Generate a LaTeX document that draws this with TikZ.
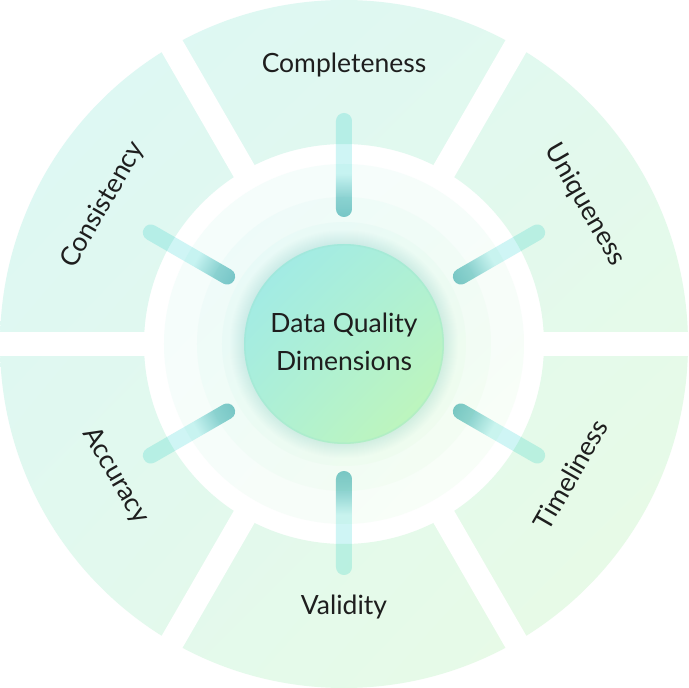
\documentclass[tikz,border=0pt]{standalone}
\usepackage{fontspec}
\setmainfont{Lato}
\usetikzlibrary{shadings}
\definecolor{segUL}{HTML}{DCF7F5}
\definecolor{segUR}{HTML}{E2F9EE}
\definecolor{segLL}{HTML}{E2F9EE}
\definecolor{segLR}{HTML}{E9FBE4}
\definecolor{spokeA}{HTML}{7FC9CC}
\definecolor{spokeB}{HTML}{95D6D7}
\definecolor{spokeC}{HTML}{CFF5F5}
\definecolor{coreUL}{HTML}{9DE9EA}
\definecolor{coreM}{HTML}{AEF0D6}
\definecolor{coreLR}{HTML}{C3F7B3}
\definecolor{glowc}{HTML}{9FE3CF}
\definecolor{labeltext}{HTML}{1E1E1E}
\pgfdeclarehorizontalshading{spokeshade}{100bp}{color(0bp)=(spokeA); color(25bp)=(spokeA); color(35bp)=(spokeB); color(46bp)=(spokeC); color(100bp)=(spokeC)}
\tikzset{
  dimlabel/.style={font=\fontsize{26.5}{30}\selectfont, text=labeltext, anchor=base, inner sep=0pt},
  corelabel/.style={font=\fontsize{26.5}{38}\selectfont, text=labeltext, align=center, inner sep=0pt},
  halo/.style={upper left=segUL!#1!white, upper right=segUR!#1!white, lower left=segLL!#1!white, lower right=segLR!#1!white},
  gapline/.style={white, line width=24pt},
}
\begin{document}
\begin{tikzpicture}[x=1pt,y=1pt]
\useasboundingbox (-344pt,-344pt) rectangle (345pt,344pt);
\fill[white] (-344pt,-344pt) rectangle (345pt,344pt);
\begin{scope}
\clip (-344pt,-344pt) rectangle (345pt,344pt);
% ring of segments
\shade[even odd rule, upper left=segUL, upper right=segUR, lower left=segLL, lower right=segLR]
  (0,0) circle (344pt) (0,0) circle (200pt);
\foreach \a in {0,60,...,300}{
  \draw[gapline] (\a:192pt) -- (\a:352pt);
}
\end{scope}
% halo rings
\shade[halo=30] (0,0) circle (180pt);
\shade[halo=50] (0,0) circle (147pt);
\shade[halo=68] (0,0) circle (122pt);
% glow
\foreach \i in {1,...,14}{
  \fill[glowc, fill opacity=0.025] (0,0) circle ({(100+\i)*1pt});
}
% core
\shade[upper left=coreUL, upper right=coreM, lower left=coreM, lower right=coreLR] (0,0) circle (100pt);
\draw[glowc, opacity=0.35, line width=1.5pt] (0,0) circle (99.2pt);
% spokes
\foreach \a in {90,30,-30,-90,210,150}{
  \begin{scope}[transform canvas={rotate=\a}, blend mode=multiply]
    \shade[shading=spokeshade, rounded corners=7.9pt] (127pt,-8pt) rectangle (231pt,8pt);
  \end{scope}
}
% labels
\node[dimlabel] (completeness) at (90:271pt) {Completeness};
\node[dimlabel, rotate=-60] (uniqueness) at (30:271pt) {Uniqueness};
\node[dimlabel, rotate=60] (timeliness) at (-30:271pt) {Timeliness};
\node[dimlabel] (validity) at (-90:271pt) {Validity};
\node[dimlabel, rotate=-60] (accuracy) at (210:271pt) {Accuracy};
\node[dimlabel, rotate=60] (consistency) at (150:271pt) {Consistency};
\node[corelabel] (core) at (0pt,2pt) {Data Quality\\Dimensions};
\end{tikzpicture}
\end{document}
